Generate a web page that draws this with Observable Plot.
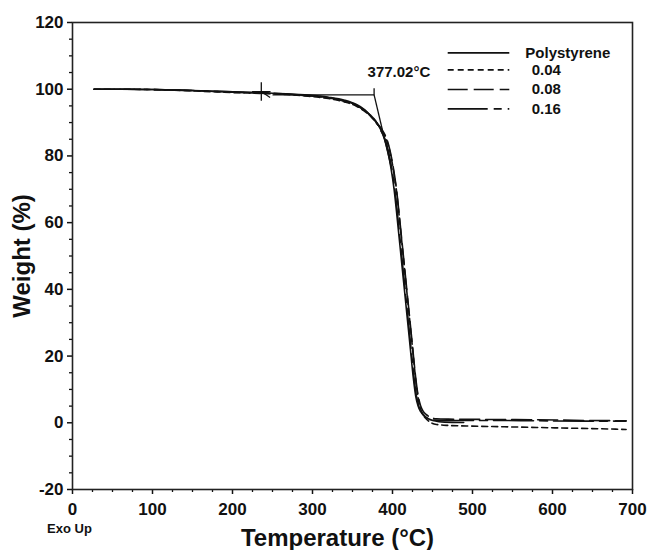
<!DOCTYPE html>
<html>
<head>
<meta charset="utf-8">
<script src="https://cdn.jsdelivr.net/npm/d3@7"></script>
<script src="https://cdn.jsdelivr.net/npm/@observablehq/plot@0.6"></script>
<style>
  html, body { margin: 0; padding: 0; background: #fff; }
  #chart { width: 652px; height: 550px; }
</style>
</head>
<body>
<div id="chart"></div>
<script>
// ---- Data ----
const seriesNames = ["Polystyrene", "0.04", "0.08", "0.16"];

const psTemp = [27, 60, 100, 150, 200, 250, 290, 320, 340, 355, 365, 372, 379, 385, 390, 394, 398, 402, 406, 410, 414, 418, 422, 426, 429, 432, 435, 439, 444, 452, 465, 489];
const psWeight = [100, 100, 99.9, 99.6, 99.2, 98.8, 98.3, 97.6, 96.7, 95.4, 93.9, 92.3, 90.5, 88, 85, 81.5, 76.5, 70, 61, 51.5, 42, 32.5, 23, 13.5, 8, 5, 3.4, 2.2, 1.3, 0.6, 0.2, 0.1];

const s004Temp = [27, 60, 100, 150, 200, 250, 290, 320, 340, 355, 365, 373, 380, 387, 393, 397, 401, 405, 409, 413, 417, 421, 425, 429, 432, 435, 438, 442, 447, 455, 470, 500, 540, 580, 620, 660, 692];
const s004Weight = [100, 100, 99.9, 99.5, 99.0, 98.6, 98.0, 97.2, 96.2, 94.9, 93.4, 91.8, 89.8, 87.5, 84.5, 81, 76, 69.5, 60.5, 51, 41.5, 32, 22.5, 13, 7.5, 4.3, 2.5, 1.2, 0.2, -0.5, -0.8, -1.0, -1.2, -1.4, -1.6, -1.8, -2.0];

const s008Temp = [27, 60, 100, 150, 200, 250, 290, 320, 340, 355, 365, 373, 380, 387, 393, 397, 401, 405, 409, 413, 417, 421, 425, 429, 432, 435, 438, 442, 447, 455, 470, 520, 580, 640, 692];
const s008Weight = [100, 100, 99.9, 99.6, 99.1, 98.7, 98.1, 97.4, 96.4, 95.1, 93.6, 92, 90, 87.8, 85, 81.5, 76.5, 70, 61, 51.5, 42, 32.5, 23, 13.5, 8.2, 5.2, 3.6, 2.5, 1.7, 1.2, 1.1, 1.0, 0.9, 0.7, 0.6];

const s016Temp = [27, 60, 100, 150, 200, 250, 290, 320, 340, 355, 365, 372, 379, 385, 391, 395, 399, 403, 407, 411, 415, 419, 423, 427, 430, 433, 436, 440, 445, 453, 470, 520, 580, 640, 692];
const s016Weight = [100, 100, 99.9, 99.6, 99.2, 98.8, 98.2, 97.5, 96.5, 95.2, 93.7, 92.1, 90.3, 87.8, 84.8, 81.3, 76.3, 69.8, 60.8, 51.3, 41.8, 32.3, 22.8, 13.3, 7.9, 4.9, 3.3, 2.1, 1.2, 0.8, 0.7, 0.7, 0.6, 0.5, 0.5];

const xTicks = [0, 100, 200, 300, 400, 500, 600, 700];
const yTicks = [-20, 0, 20, 40, 60, 80, 100, 120];

// onset annotation
const onsetTemp = 377;
const onsetLabel = "377.02°C";
const baselineStart = 250;
const baselineWeight = 98.3;
const tangentEnd = [399, 76];
const markerPoint = [236, 99.3];

// ---- Build ----
const dashes = ["none", "6,4", "20,6", "40,6,8,6"];
const temps = [psTemp, s004Temp, s008Temp, s016Temp];
const weights = [psWeight, s004Weight, s008Weight, s016Weight];

const xMinor = d3.range(0, 701, 25).filter(v => v % 100 !== 0);
const yMinor = d3.range(-20, 121, 5).filter(v => v % 20 !== 0);

const lineMarks = seriesNames.map((name, i) => {
  const data = temps[i].map((t, j) => ({t, w: weights[i][j]}));
  return Plot.line(data, {x: "t", y: "w", stroke: "#111", strokeWidth: 1.6,
    strokeDasharray: dashes[i] === "none" ? null : dashes[i], curve: "monotone-x"});
});

// legend (placed in data coordinates at upper right)
const legRowY = [110.9, 105.8, 99.9, 94.1];
const legendMarks = [];
seriesNames.forEach((name, i) => {
  legendMarks.push(Plot.link([{}], {x1: 469, x2: 546, y1: legRowY[i], y2: legRowY[i],
    stroke: "#111", strokeWidth: 1.6, strokeDasharray: dashes[i] === "none" ? null : dashes[i]}));
  legendMarks.push(Plot.text([name], {x: i === 0 ? 566 : 574, y: legRowY[i], text: d => d,
    textAnchor: "start", fontSize: 15, fontWeight: "bold", fill: "#111"}));
});

const chart = Plot.plot({
  width: 652,
  height: 550,
  marginLeft: 72,
  marginRight: 20,
  marginTop: 22,
  marginBottom: 61,
  x: {domain: [0, 700]},
  y: {domain: [-20, 120]},
  style: {fontFamily: "'Liberation Sans', Arial, sans-serif", background: "#fff", color: "#111"},
  marks: [
    Plot.axisX({ticks: xTicks, tickSize: 5, tickPadding: 8, fontSize: 17, fontWeight: "bold", label: null, strokeWidth: 1.5, tickFormat: d => d}),
    Plot.axisX({ticks: xMinor, tickSize: 3, text: null, label: null, strokeWidth: 1.3}),
    Plot.axisY({ticks: yTicks, tickSize: 5, tickPadding: 4, fontSize: 17, fontWeight: "bold", label: null, strokeWidth: 1.5, tickFormat: d => d}),
    Plot.axisY({ticks: yMinor, tickSize: 3, text: null, label: null, strokeWidth: 1.3}),
    Plot.frame({stroke: "#222", strokeWidth: 1.6}),
    ...lineMarks,
    // onset construction
    Plot.link([{}], {x1: baselineStart, x2: onsetTemp, y1: baselineWeight, y2: baselineWeight, stroke: "#111", strokeWidth: 1.3}),
    Plot.link([{}], {x1: onsetTemp, x2: onsetTemp, y1: baselineWeight, y2: 100.3, stroke: "#111", strokeWidth: 1.3}),
    Plot.link([{}], {x1: onsetTemp, x2: tangentEnd[0], y1: baselineWeight, y2: tangentEnd[1], stroke: "#111", strokeWidth: 1.3}),
    Plot.dot([markerPoint], {x: d => d[0], y: d => d[1], symbol: "plus", r: 6, stroke: "#111", strokeWidth: 1.3}),
    Plot.link([{}], {x1: markerPoint[0], x2: markerPoint[0] + 11, y1: markerPoint[1], y2: markerPoint[1] - 1.8, stroke: "#111", strokeWidth: 1.3}),
    Plot.text([onsetLabel], {x: 408, y: 105, text: d => d, fontSize: 15, fontWeight: "bold", fill: "#111"}),
    ...legendMarks,
    // axis titles
    Plot.text(["Weight (%)"], {frameAnchor: "left", dx: -50, rotate: -90, textAnchor: "middle", lineAnchor: "middle", fontSize: 24, fontWeight: "bold", fill: "#111"}),
    Plot.text(["Temperature (°C)"], {frameAnchor: "bottom", dx: -15, dy: 49, textAnchor: "middle", lineAnchor: "middle", fontSize: 24, fontWeight: "bold", fill: "#111"}),
    Plot.text(["Exo Up"], {frameAnchor: "bottom-left", dx: -3, dy: 39, textAnchor: "middle", lineAnchor: "middle", fontSize: 13, fontWeight: "bold", fill: "#111"})
  ]
});
document.getElementById("chart").appendChild(chart);
</script>
</body>
</html>
